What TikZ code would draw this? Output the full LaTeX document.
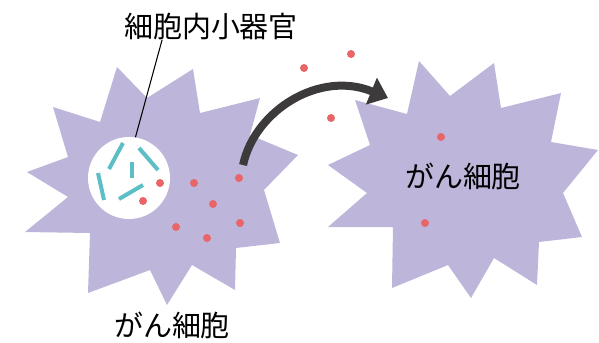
\documentclass[tikz,border=0pt]{standalone}
\usepackage{fontspec}
\newfontfamily\jpfont{Noto Sans CJK JP}
\usepackage{tikz}
\usetikzlibrary{arrows.meta, calc}

\definecolor{cellviolet}{RGB}{189,181,218}
\definecolor{rodteal}{RGB}{92,190,198}
\definecolor{dotred}{RGB}{232,102,104}
\definecolor{arrowgray}{RGB}{60,58,58}

\begin{document}
\begin{tikzpicture}[
  x=0.02cm, y=-0.02cm,
  cell/.style={fill=cellviolet, draw=none},
  organelle/.style={circle, fill=white, draw=none, minimum size=1.64cm,
                    inner sep=0pt},
  rod/.style={draw=rodteal, line width=0.08cm},
  dot/.style={fill=dotred},
  label/.style={font=\jpfont\fontsize{16.5}{18}\selectfont, inner sep=0pt},
  leader/.style={draw=black, line width=0.6pt},
  move/.style={draw=arrowgray, line width=0.16cm,
               -{Triangle[length=0.36cm, width=0.56cm]}},
]
\useasboundingbox (0,0) rectangle (599,342);

% spiky cell on the left
\fill[cell] (117,67) -- (147,98) -- (193,69) -- (200,113) -- (260,98)
  -- (250,135) -- (298,155) -- (264,190) -- (280,243) -- (236,248)
  -- (235,290) -- (192,265) -- (167,305) -- (150,270) -- (88,293)
  -- (90,233) -- (25,232) -- (68,197) -- (27,172) -- (68,157)
  -- (53,107) -- (100,122) -- cycle;

% spiky cell on the right
\fill[cell] (419,61) -- (450,96) -- (494,63) -- (501,108) -- (561,93)
  -- (551,142) -- (598,150) -- (563,193) -- (582,237) -- (539,242)
  -- (537,285) -- (494,258) -- (471,298) -- (448,265) -- (392,288)
  -- (393,227) -- (328,227) -- (367,193) -- (328,165) -- (370,145)
  -- (355,100) -- (407,114) -- cycle;

\node[organelle] (org) at (129,178) {};
\draw[rod] (123,143) -- (109,169);
\draw[rod] (139,148) -- (158,170);
\draw[rod] (132,162) -- (132,178);
\draw[rod] (98,173)  -- (104,200);
\draw[rod] (119,199) -- (143,185);

\foreach \p in {(160,183), (143,201), (194,183), (239,178), (213,204),
                (176,227), (240,223), (207,238), (304,68), (351,54),
                (331,118), (441,137), (425,223)}
  \fill[dot] \p circle (0.08cm);

\coordinate (from) at (243,165);
\coordinate (to)   at (388,98);
\draw[move] (from) .. controls (255,110) and (320,70) .. (to);

\node[label] (lbl)   at (211,26)  {細胞内小器官};
\node[label] (cellL) at (172,325) {がん細胞};
\node[label] (cellR) at (463,176) {がん細胞};

\draw[leader] (org.81) -- ($(lbl.south west)!0.22!(lbl.south east)$);
\end{tikzpicture}
\end{document}
